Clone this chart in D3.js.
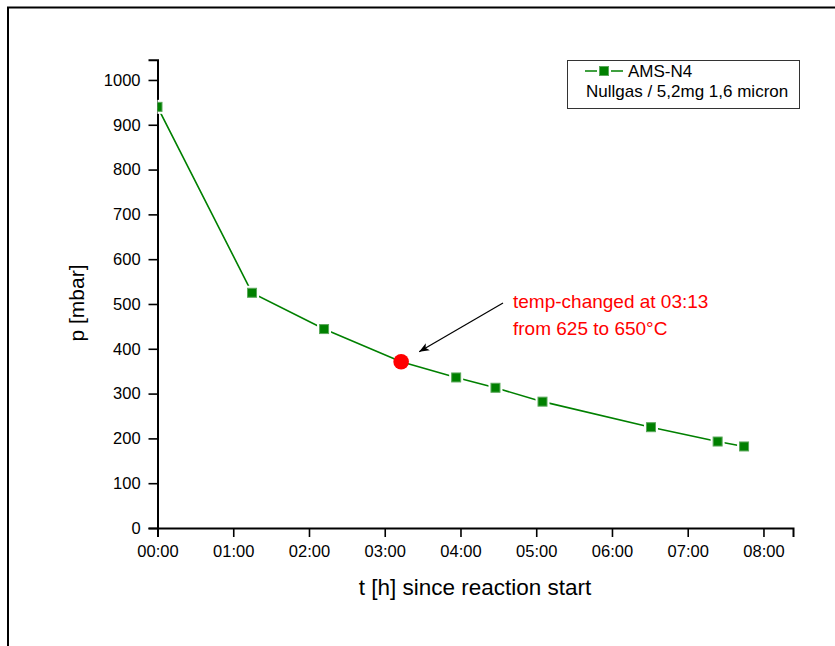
<!DOCTYPE html>
<html>
<head>
<meta charset="utf-8">
<script src="https://cdn.jsdelivr.net/npm/d3@7"></script>
<style>
  html, body { margin: 0; padding: 0; background: #fff; }
  svg { display: block; font-family: "Liberation Sans", Arial, sans-serif; }
</style>
</head>
<body>
<svg id="chart" width="835" height="646"></svg>
<script>
// Pressure decay of sample AMS-N4 (hours since reaction start, pressure in mbar)
const hours    = [0, 1.248, 2.199, 3 + 13 / 60, 3.943, 4.462, 5.083, 6.515, 7.395, 7.744];
const pressure = [940, 525, 444, 371, 336, 313, 282, 225, 193, 182];
// time at which the furnace temperature was raised
const tempChangeHour = 3 + 13 / 60;

const xTickHours = [0, 1, 2, 3, 4, 5, 6, 7, 8];
const yTickValues = [0, 100, 200, 300, 400, 500, 600, 700, 800, 900, 1000];

const seriesName = "AMS-N4";
const seriesNote = "Nullgas / 5,2mg 1,6 micron";
const annotationLines = ["temp-changed at 03:13", "from 625 to 650°C"];
const xTitle = "t [h] since reaction start";
const yTitle = "p [mbar]";

const green = "#008000";
const svg = d3.select("#chart");

// outer frame of the graph page
svg.append("rect")
  .attr("x", 8).attr("y", 7.5).attr("width", 1000).attr("height", 1000)
  .attr("fill", "none").attr("stroke", "#000").attr("stroke-width", 2);

const x = d3.scaleLinear().domain([0, 8.39]).range([157.5, 793]);
const y = d3.scaleLinear().domain([0, 1045]).range([528, 59.8]);

const fmtHour = h => String(h).padStart(2, "0") + ":00";

// clip the plot to the axis box
svg.append("defs").append("clipPath").attr("id", "plotClip")
  .append("rect")
  .attr("x", x(0)).attr("y", y(1045))
  .attr("width", x(8.39) - x(0)).attr("height", y(0) - y(1045));

// x axis
const xAxisG = svg.append("g").attr("transform", `translate(0,${y(0)})`);
xAxisG.call(d3.axisBottom(x).tickValues(d3.range(0.5, 8.39, 1)).tickSize(5).tickFormat(""));
xAxisG.call(d3.axisBottom(x).tickValues(xTickHours).tickSize(9).tickFormat(fmtHour));

// y axis
const yAxisG = svg.append("g").attr("transform", `translate(${x(0)},0)`);
yAxisG.call(d3.axisLeft(y).tickValues(d3.range(50, 1045, 100)).tickSize(5).tickFormat(""));
yAxisG.call(d3.axisLeft(y).tickValues(yTickValues).tickSize(9).tickFormat(d3.format("d")));

svg.selectAll(".domain").attr("stroke", "#000").attr("stroke-width", 2);
svg.selectAll(".tick line").attr("stroke", "#000").attr("stroke-width", 1.6);
svg.selectAll(".tick text").attr("fill", "#000").attr("font-size", 16.5)
  .attr("font-family", "Liberation Sans, Arial, sans-serif");
xAxisG.selectAll(".tick text").attr("dy", "1.02em");
yAxisG.selectAll(".tick text").attr("dx", "-0.3em");

// axis titles
svg.append("text")
  .attr("x", 475).attr("y", 595)
  .attr("text-anchor", "middle").attr("font-size", 22.5)
  .text(xTitle);
svg.append("text")
  .attr("transform", `translate(84,${303}) rotate(-90)`)
  .attr("text-anchor", "middle").attr("font-size", 21)
  .text(yTitle);

// data
const points = hours.map((h, i) => ({ h, p: pressure[i], change: h === tempChangeHour }));
const plot = svg.append("g").attr("clip-path", "url(#plotClip)");

plot.append("path")
  .datum(points)
  .attr("fill", "none").attr("stroke", green).attr("stroke-width", 1.6)
  .attr("d", d3.line().x(d => x(d.h)).y(d => y(d.p)));

const squares = points.filter(d => !d.change);
plot.selectAll("rect.halo").data(squares).join("rect")
  .attr("class", "halo")
  .attr("x", d => x(d.h) - 7).attr("y", d => y(d.p) - 7)
  .attr("width", 14).attr("height", 14).attr("fill", "#fff");
plot.selectAll("rect.sym").data(squares).join("rect")
  .attr("class", "sym")
  .attr("x", d => x(d.h) - 4.5).attr("y", d => y(d.p) - 4.5)
  .attr("width", 9).attr("height", 9)
  .attr("fill", green).attr("stroke", "#5aa85a").attr("stroke-width", 1);

plot.selectAll("circle.change").data(points.filter(d => d.change)).join("circle")
  .attr("class", "change")
  .attr("cx", d => x(d.h)).attr("cy", d => y(d.p)).attr("r", 7.8)
  .attr("fill", "#ff0000");

// annotation with arrow
svg.select("defs").append("marker")
  .attr("id", "arrowHead").attr("viewBox", "0 0 10 10")
  .attr("refX", 10).attr("refY", 5)
  .attr("markerWidth", 10).attr("markerHeight", 10)
  .attr("markerUnits", "userSpaceOnUse")
  .attr("orient", "auto")
  .append("path").attr("d", "M0,1 L10,5 L0,9 L2.5,5 Z").attr("fill", "#000");

const changePt = points.find(d => d.change);
svg.append("line")
  .attr("x1", 503).attr("y1", 303)
  .attr("x2", x(changePt.h) + 18).attr("y2", y(changePt.p) - 10)
  .attr("stroke", "#000").attr("stroke-width", 1.2)
  .attr("marker-end", "url(#arrowHead)");

svg.append("text")
  .attr("x", 513).attr("y", 308)
  .attr("fill", "#ff0000").attr("font-size", 19)
  .selectAll("tspan").data(annotationLines).join("tspan")
  .attr("x", 513).attr("dy", (d, i) => i === 0 ? 0 : 27)
  .text(d => d);

// legend
const lg = svg.append("g");
lg.append("rect")
  .attr("x", 567.5).attr("y", 60.5).attr("width", 232).attr("height", 48)
  .attr("fill", "#fff").attr("stroke", "#333").attr("stroke-width", 1);
lg.append("line")
  .attr("x1", 585).attr("x2", 623).attr("y1", 71).attr("y2", 71)
  .attr("stroke", green).attr("stroke-width", 1.6);
lg.append("rect")
  .attr("x", 604 - 7).attr("y", 71 - 7).attr("width", 14).attr("height", 14).attr("fill", "#fff");
lg.append("rect")
  .attr("x", 604 - 4.5).attr("y", 71 - 4.5).attr("width", 9).attr("height", 9)
  .attr("fill", green).attr("stroke", "#5aa85a").attr("stroke-width", 1);
lg.append("text").attr("x", 628).attr("y", 76.5).attr("font-size", 17).text(seriesName);
lg.append("text").attr("x", 586).attr("y", 97).attr("font-size", 17).text(seriesNote);
</script>
</body>
</html>
